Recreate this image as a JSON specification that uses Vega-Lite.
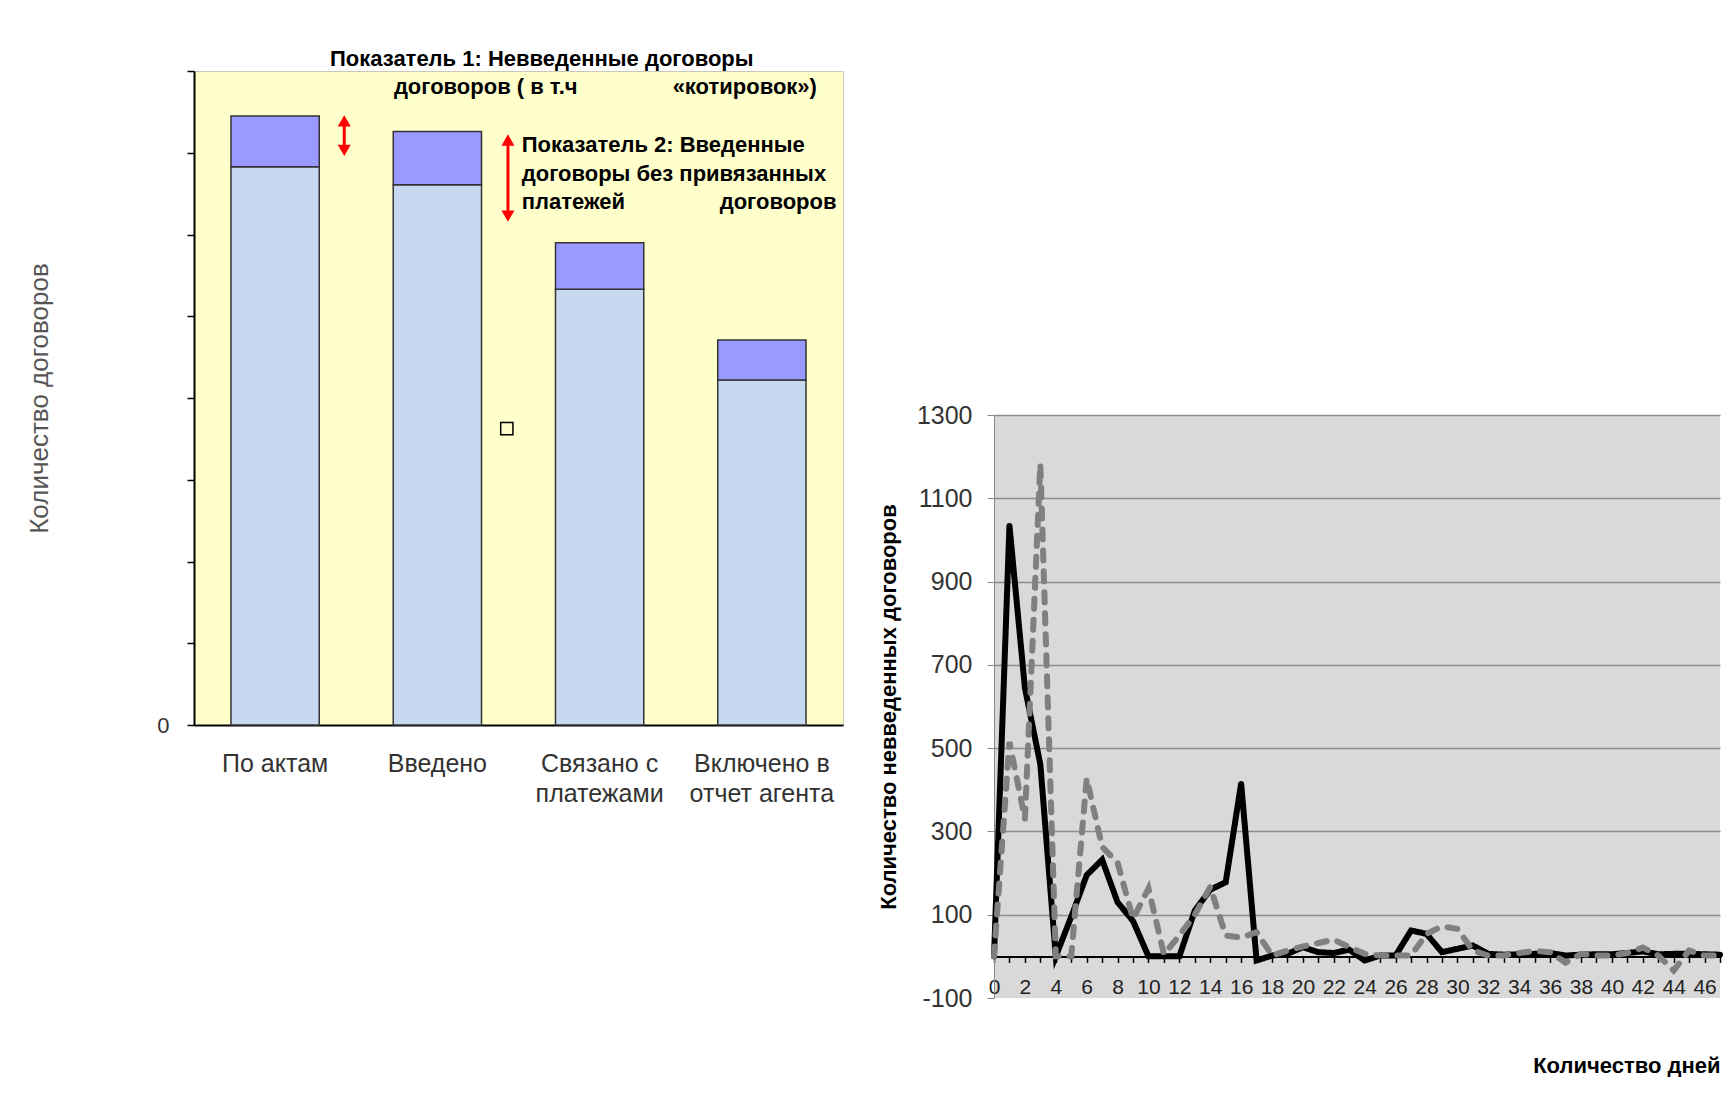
{
  "$schema": "https://vega.github.io/schema/vega-lite/v6.json",
  "background": "white",
  "padding": {"left": 26, "top": 47, "right": 0, "bottom": 0},
  "bounds": "flush",
  "spacing": 151,
  "resolve": {"scale": {"color": "independent", "strokeDash": "independent"}},
  "config": {
    "font": "Liberation Sans",
    "view": {"stroke": null},
    "text": {"font": "Liberation Sans"},
    "axis": {"labelFont": "Liberation Sans", "titleFont": "Liberation Sans"}
  },
  "datasets": {
    "bars": [
      {"stage": "По актам", "part": "Введенные", "level": 1, "count": 6830},
      {"stage": "По актам", "part": "Невведенные", "level": 2, "count": 620},
      {"stage": "Введено", "part": "Введенные", "level": 1, "count": 6610},
      {"stage": "Введено", "part": "Невведенные", "level": 2, "count": 650},
      {"stage": "Связано с\nплатежами", "part": "Введенные", "level": 1, "count": 5330},
      {"stage": "Связано с\nплатежами", "part": "Невведенные", "level": 2, "count": 570},
      {"stage": "Включено в\nотчет агента", "part": "Введенные", "level": 1, "count": 4220},
      {"stage": "Включено в\nотчет агента", "part": "Невведенные", "level": 2, "count": 490}
    ],
    "notes": [
      {"pos": 0.838, "level": 8060, "note": "Показатель 1:  Невведенные договоры"},
      {"pos": 1.232, "level": 7720, "note": "договоров ( в т.ч"},
      {"pos": 2.95, "level": 7720, "note": "«котировок»)"},
      {"pos": 2.02, "level": 7010, "note": "Показатель 2: Введенные"},
      {"pos": 2.02, "level": 6650, "note": "договоры без привязанных"},
      {"pos": 2.02, "level": 6310, "note": "платежей"},
      {"pos": 3.24, "level": 6310, "note": "договоров"}
    ],
    "arrows": [
      {"pos": 0.926, "top": 7390, "bottom": 7030},
      {"pos": 1.935, "top": 7156, "bottom": 6226}
    ],
    "marker": [
      {"pos": 1.928, "level": 3625}
    ],
    "days": [
      {"day": 0, "series": "Ряд 1", "count": 0},
      {"day": 1, "series": "Ряд 1", "count": 1034},
      {"day": 2, "series": "Ряд 1", "count": 645},
      {"day": 3, "series": "Ряд 1", "count": 461},
      {"day": 4, "series": "Ряд 1", "count": 0},
      {"day": 5, "series": "Ряд 1", "count": 95},
      {"day": 6, "series": "Ряд 1", "count": 195},
      {"day": 7, "series": "Ряд 1", "count": 232},
      {"day": 8, "series": "Ряд 1", "count": 130},
      {"day": 9, "series": "Ряд 1", "count": 85},
      {"day": 10, "series": "Ряд 1", "count": 0},
      {"day": 11, "series": "Ряд 1", "count": 0},
      {"day": 12, "series": "Ряд 1", "count": 0},
      {"day": 13, "series": "Ряд 1", "count": 110},
      {"day": 14, "series": "Ряд 1", "count": 160},
      {"day": 15, "series": "Ряд 1", "count": 178},
      {"day": 16, "series": "Ряд 1", "count": 415},
      {"day": 17, "series": "Ряд 1", "count": -10},
      {"day": 18, "series": "Ряд 1", "count": 2},
      {"day": 19, "series": "Ряд 1", "count": 6},
      {"day": 20, "series": "Ряд 1", "count": 22},
      {"day": 21, "series": "Ряд 1", "count": 10},
      {"day": 22, "series": "Ряд 1", "count": 8},
      {"day": 23, "series": "Ряд 1", "count": 16},
      {"day": 24, "series": "Ряд 1", "count": -10},
      {"day": 25, "series": "Ряд 1", "count": 2},
      {"day": 26, "series": "Ряд 1", "count": 2},
      {"day": 27, "series": "Ряд 1", "count": 62},
      {"day": 28, "series": "Ряд 1", "count": 54},
      {"day": 29, "series": "Ряд 1", "count": 10},
      {"day": 30, "series": "Ряд 1", "count": 18},
      {"day": 31, "series": "Ряд 1", "count": 26},
      {"day": 32, "series": "Ряд 1", "count": 6},
      {"day": 33, "series": "Ряд 1", "count": 4},
      {"day": 34, "series": "Ряд 1", "count": 5},
      {"day": 35, "series": "Ряд 1", "count": 6},
      {"day": 36, "series": "Ряд 1", "count": 8},
      {"day": 37, "series": "Ряд 1", "count": 2},
      {"day": 38, "series": "Ряд 1", "count": 4},
      {"day": 39, "series": "Ряд 1", "count": 5},
      {"day": 40, "series": "Ряд 1", "count": 5},
      {"day": 41, "series": "Ряд 1", "count": 8},
      {"day": 42, "series": "Ряд 1", "count": 12},
      {"day": 43, "series": "Ряд 1", "count": 5},
      {"day": 44, "series": "Ряд 1", "count": 6},
      {"day": 45, "series": "Ряд 1", "count": 6},
      {"day": 46, "series": "Ряд 1", "count": 5},
      {"day": 47, "series": "Ряд 1", "count": 4},
      {"day": 0, "series": "Ряд 2", "count": 0},
      {"day": 1, "series": "Ряд 2", "count": 515},
      {"day": 2, "series": "Ряд 2", "count": 330},
      {"day": 3, "series": "Ряд 2", "count": 1182},
      {"day": 4, "series": "Ряд 2", "count": 0},
      {"day": 5, "series": "Ряд 2", "count": 0},
      {"day": 6, "series": "Ряд 2", "count": 427},
      {"day": 7, "series": "Ряд 2", "count": 263},
      {"day": 8, "series": "Ряд 2", "count": 225},
      {"day": 9, "series": "Ряд 2", "count": 90},
      {"day": 10, "series": "Ряд 2", "count": 163},
      {"day": 11, "series": "Ряд 2", "count": 5},
      {"day": 12, "series": "Ряд 2", "count": 50},
      {"day": 13, "series": "Ряд 2", "count": 100},
      {"day": 14, "series": "Ряд 2", "count": 167},
      {"day": 15, "series": "Ряд 2", "count": 50},
      {"day": 16, "series": "Ряд 2", "count": 45},
      {"day": 17, "series": "Ряд 2", "count": 58},
      {"day": 18, "series": "Ряд 2", "count": 2},
      {"day": 19, "series": "Ряд 2", "count": 14},
      {"day": 20, "series": "Ряд 2", "count": 24},
      {"day": 21, "series": "Ряд 2", "count": 32},
      {"day": 22, "series": "Ряд 2", "count": 40},
      {"day": 23, "series": "Ряд 2", "count": 22},
      {"day": 24, "series": "Ряд 2", "count": 6},
      {"day": 25, "series": "Ряд 2", "count": 2},
      {"day": 26, "series": "Ряд 2", "count": 2},
      {"day": 27, "series": "Ряд 2", "count": 2},
      {"day": 28, "series": "Ряд 2", "count": 54},
      {"day": 29, "series": "Ряд 2", "count": 72},
      {"day": 30, "series": "Ряд 2", "count": 66},
      {"day": 31, "series": "Ряд 2", "count": 14},
      {"day": 32, "series": "Ряд 2", "count": 2},
      {"day": 33, "series": "Ряд 2", "count": 2},
      {"day": 34, "series": "Ряд 2", "count": 8},
      {"day": 35, "series": "Ряд 2", "count": 13},
      {"day": 36, "series": "Ряд 2", "count": 10},
      {"day": 37, "series": "Ряд 2", "count": -15},
      {"day": 38, "series": "Ряд 2", "count": 6},
      {"day": 39, "series": "Ряд 2", "count": 2},
      {"day": 40, "series": "Ряд 2", "count": 2},
      {"day": 41, "series": "Ряд 2", "count": 8},
      {"day": 42, "series": "Ряд 2", "count": 21},
      {"day": 43, "series": "Ряд 2", "count": 2},
      {"day": 44, "series": "Ряд 2", "count": -34},
      {"day": 45, "series": "Ряд 2", "count": 14},
      {"day": 46, "series": "Ряд 2", "count": 2},
      {"day": 47, "series": "Ряд 2", "count": 2}
    ]
  },
  "hconcat": [
    {
      "width": 649,
      "height": 654,
      "view": {"fill": "#FFFFCC", "stroke": "#C8C8B4", "strokeWidth": 1},
      "resolve": {"scale": {"x": "independent"}},
      "layer": [
        {
          "data": {"name": "bars"},
          "mark": {"type": "bar", "stroke": "#333333", "strokeWidth": 1.5},
          "encoding": {
            "x": {
              "field": "stage", "type": "nominal", "sort": null,
              "scale": {"paddingInner": 0.456, "paddingOuter": 0.228},
              "axis": {
                "title": null, "labelAngle": 0,
                "labelExpr": "split(datum.label, '\\n')",
                "labelFontSize": 25, "labelColor": "#333333", "labelPadding": 26,
                "labelLineHeight": 30, "ticks": false,
                "domainColor": "#000000", "domainWidth": 2
              }
            },
            "y": {
              "field": "count", "type": "quantitative", "stack": "zero",
              "scale": {"domain": [0, 8000], "nice": false},
              "axis": {
                "title": "Количество договоров",
                "values": [0, 1000, 2000, 3000, 4000, 5000, 6000, 7000, 8000],
                "labelExpr": "datum.value == 0 ? '0' : ''",
                "grid": false, "domainColor": "#000000", "domainWidth": 2,
                "tickColor": "#000000", "tickSize": 7, "tickWidth": 1.5,
                "labelFontSize": 22, "labelColor": "#333333", "labelPadding": 18,
                "titleFontSize": 26, "titleFontWeight": "normal", "titleColor": "#555555",
                "titlePadding": 104
              }
            },
            "color": {
              "field": "part", "type": "nominal",
              "scale": {"domain": ["Введенные", "Невведенные"], "range": ["#C6D9F1", "#9999FF"]},
              "legend": null
            },
            "order": {"field": "level", "type": "quantitative"}
          }
        },
        {
          "data": {"name": "arrows"},
          "mark": {"type": "rule", "color": "#FF0000", "strokeWidth": 3},
          "encoding": {
            "x": {"field": "pos", "type": "quantitative", "scale": {"domain": [0, 4], "nice": false}, "axis": null},
            "y": {"field": "top", "type": "quantitative", "scale": {"domain": [0, 8000], "nice": false}},
            "y2": {"field": "bottom"}
          }
        },
        {
          "data": {"name": "arrows"},
          "mark": {"type": "point", "shape": "triangle-up", "filled": true, "color": "#FF0000", "size": 170, "opacity": 1},
          "encoding": {
            "x": {"field": "pos", "type": "quantitative", "scale": {"domain": [0, 4], "nice": false}, "axis": null},
            "y": {"field": "top", "type": "quantitative", "scale": {"domain": [0, 8000], "nice": false}}
          }
        },
        {
          "data": {"name": "arrows"},
          "mark": {"type": "point", "shape": "triangle-down", "filled": true, "color": "#FF0000", "size": 170, "opacity": 1},
          "encoding": {
            "x": {"field": "pos", "type": "quantitative", "scale": {"domain": [0, 4], "nice": false}, "axis": null},
            "y": {"field": "bottom", "type": "quantitative", "scale": {"domain": [0, 8000], "nice": false}}
          }
        },
        {
          "data": {"name": "marker"},
          "mark": {"type": "point", "shape": "square", "filled": false, "stroke": "#000000", "strokeWidth": 1.5, "size": 150, "opacity": 1},
          "encoding": {
            "x": {"field": "pos", "type": "quantitative", "scale": {"domain": [0, 4], "nice": false}, "axis": null},
            "y": {"field": "level", "type": "quantitative", "scale": {"domain": [0, 8000], "nice": false}}
          }
        },
        {
          "data": {"name": "notes"},
          "mark": {"type": "text", "fontWeight": "bold", "fontSize": 22, "align": "left", "baseline": "alphabetic", "color": "#000000"},
          "encoding": {
            "x": {"field": "pos", "type": "quantitative", "scale": {"domain": [0, 4], "nice": false}, "axis": null},
            "y": {"field": "level", "type": "quantitative", "scale": {"domain": [0, 8000], "nice": false}},
            "text": {"field": "note"}
          }
        }
      ]
    },
    {
      "bounds": "flush",
      "spacing": 44,
      "vconcat": [
        {
          "width": 726,
          "height": 300,
          "view": {"fill": null, "stroke": null},
          "data": {"values": [{"blank": ""}]},
          "mark": {"type": "text"},
          "encoding": {"text": {"field": "blank"}}
        },
        {
          "width": 726,
          "height": 583,
          "view": {"fill": "#D9D9D9", "stroke": null},
          "data": {"name": "days"},
          "mark": {"type": "line", "strokeWidth": 6, "strokeCap": "round", "strokeMiterLimit": 6},
          "encoding": {
            "x": {
              "field": "day", "type": "quantitative",
              "scale": {"domain": [0, 47], "nice": false, "zero": false},
              "axis": {
                "title": "Количество дней", "titleFontWeight": "bold", "titleFontSize": 22,
                "titleAnchor": "end", "titleColor": "#000000", "titlePadding": 58,
                "offset": -41.6,
                "values": [0, 1, 2, 3, 4, 5, 6, 7, 8, 9, 10, 11, 12, 13, 14, 15, 16, 17, 18, 19, 20, 21, 22, 23, 24, 25, 26, 27, 28, 29, 30, 31, 32, 33, 34, 35, 36, 37, 38, 39, 40, 41, 42, 43, 44, 45, 46, 47],
                "labelExpr": "datum.value % 2 == 0 ? toString(datum.value) : ''",
                "labelFont": "Liberation Sans Narrow, Arial Narrow, Liberation Sans, sans-serif",
                "labelFontSize": 21, "labelColor": "#222222",
                "labelPadding": 14, "labelFlush": false, "labelOverlap": false,
                "tickSize": 6, "tickColor": "#000000", "tickWidth": 1.5,
                "domainColor": "#000000", "domainWidth": 2, "grid": false
              }
            },
            "y": {
              "field": "count", "type": "quantitative",
              "scale": {"domain": [-100, 1300], "nice": false},
              "axis": {
                "title": "Количество невведенных договоров", "titleFontWeight": "bold",
                "titleFontSize": 22, "titleColor": "#000000", "titlePadding": 16,
                "values": [-100, 100, 300, 500, 700, 900, 1100, 1300],
                "labelExpr": "toString(datum.value)",
                "labelFontSize": 25, "labelColor": "#333333", "labelPadding": 15,
                "tickSize": 7, "tickColor": "#888888", "domainColor": "#888888", "domainWidth": 1,
                "grid": true, "gridColor": "#8C8C8C", "gridWidth": 1.5,
                "gridOpacity": {"condition": {"test": "datum.value == -100", "value": 0}, "value": 1}
              }
            },
            "color": {
              "field": "series", "type": "nominal",
              "scale": {"domain": ["Ряд 1", "Ряд 2"], "range": ["#000000", "#808080"]},
              "legend": null
            },
            "strokeDash": {
              "field": "series", "type": "nominal",
              "scale": {"domain": ["Ряд 1", "Ряд 2"], "range": [[1, 0], [10, 11]]},
              "legend": null
            }
          }
        }
      ]
    }
  ]
}
